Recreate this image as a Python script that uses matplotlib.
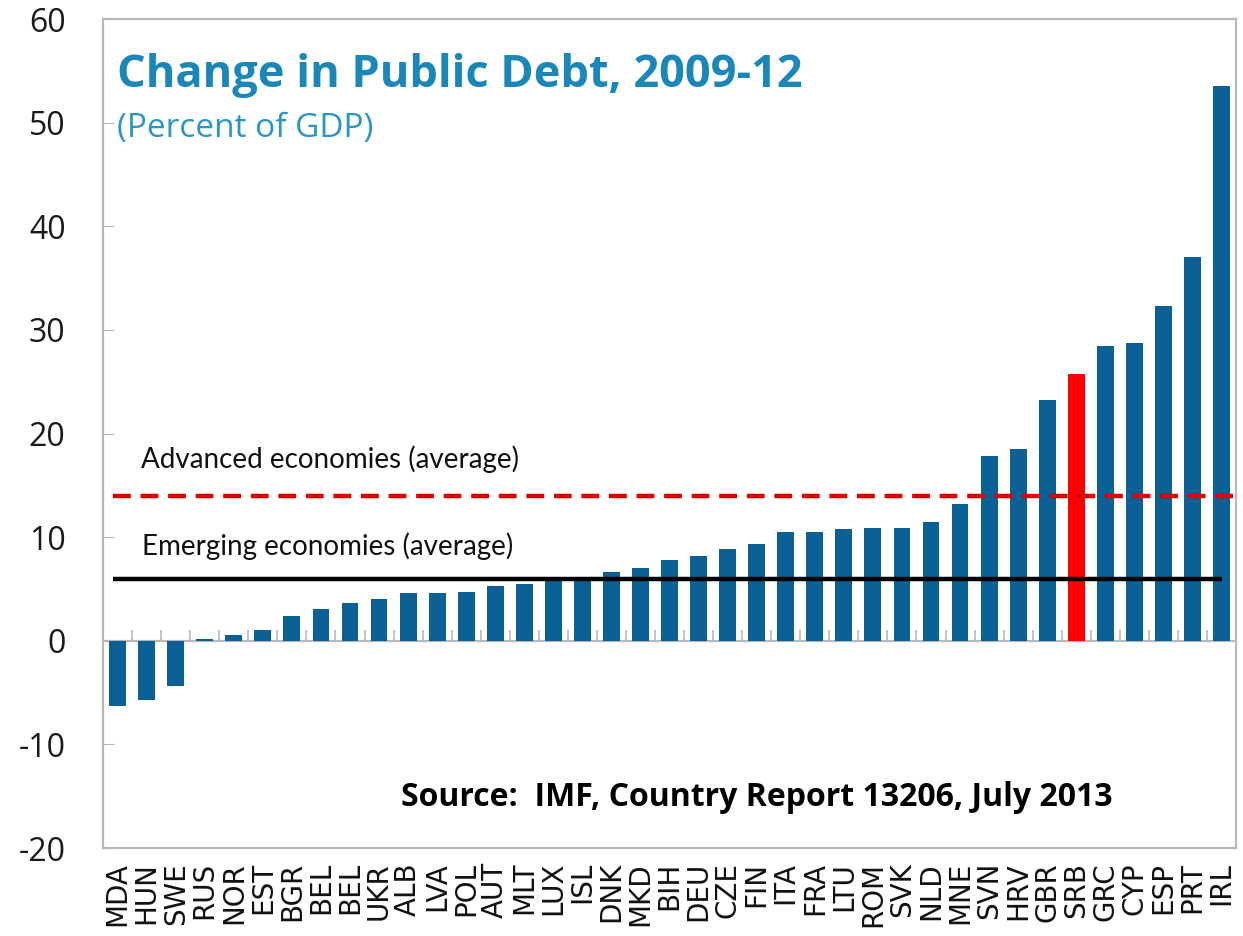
import numpy as np
import matplotlib.pyplot as plt

# data
countries = ['MDA', 'HUN', 'SWE', 'RUS', 'NOR', 'EST', 'BGR', 'BEL', 'BEL', 'UKR',
             'ALB', 'LVA', 'POL', 'AUT', 'MLT', 'LUX', 'ISL', 'DNK', 'MKD', 'BIH',
             'DEU', 'CZE', 'FIN', 'ITA', 'FRA', 'LTU', 'ROM', 'SVK', 'NLD', 'MNE',
             'SVN', 'HRV', 'GBR', 'SRB', 'GRC', 'CYP', 'ESP', 'PRT', 'IRL']
debt_change = [-6.3, -5.7, -4.4, 0.2, 0.6, 1.0, 2.4, 3.1, 3.6, 4.0,
               4.6, 4.6, 4.7, 5.3, 5.5, 6.0, 6.0, 6.6, 7.0, 7.8,
               8.2, 8.9, 9.3, 10.5, 10.5, 10.8, 10.9, 10.9, 11.5, 13.2,
               17.8, 18.5, 23.2, 25.7, 28.4, 28.7, 32.3, 37.0, 53.5]
highlight = 'SRB'
advanced_avg = 14.0
emerging_avg = 6.0
y_ticks = [-20, -10, 0, 10, 20, 30, 40, 50, 60]

blue = '#0b6196'
red = '#ff0000'
title_blue = '#1a87b8'
gray = '#b8b8b8'

fig = plt.figure(figsize=(12.43, 9.36), dpi=100)
ax = fig.add_axes([0.0829, 0.094, 0.9115, 0.8857])

x = np.arange(len(countries))
colors = [red if c == highlight else blue for c in countries]
ax.bar(x, debt_change, width=0.58, color=colors, zorder=2)

# average lines
ax.hlines(advanced_avg, -0.15, 38.4, colors='#e00000', linestyles=(0, (4, 2.2)),
          linewidth=3.2, zorder=3)
ax.hlines(emerging_avg, -0.15, 38.0, colors='black', linewidth=3.2, zorder=3)

ax.text(0.8, advanced_avg + 3.5, 'Advanced economies (average)', fontsize=20,
        family='Lato', color='#111111', va='center', ha='left')
ax.text(0.85, emerging_avg + 3.1, 'Emerging economies (average)', fontsize=20,
        family='Lato', color='#111111', va='center', ha='left')

ax.set_xlim(-0.5, len(countries) - 0.5)
ax.set_ylim(-20, 60)
ax.set_yticks(y_ticks)
ax.set_yticklabels([str(v) for v in y_ticks], fontsize=23, family='Open Sans', color='#1a1a1a')
ax.tick_params(axis='y', direction='in', length=8, color=gray, pad=27)

ax.set_xticks(x)
ax.set_xticklabels(countries, rotation=90, fontsize=20, family='DejaVu Sans', color='#111111')
ax.tick_params(axis='x', length=0, pad=10)

for s in ax.spines.values():
    s.set_color(gray)
    s.set_linewidth(1.6)

# zero line with small upward ticks between bars
zero_axis = ax.secondary_xaxis(0.25)
zero_axis.set_xticks(np.arange(len(countries) + 1) - 0.5)
zero_axis.set_xticklabels([])
zero_axis.tick_params(axis='x', direction='in', length=8, color=gray, width=1.2)
zero_axis.spines['bottom'].set_color(gray)
zero_axis.spines['bottom'].set_linewidth(1.6)

# title
ax.text(0.012, 0.932, 'Change in Public Debt, 2009-12', transform=ax.transAxes,
        fontsize=32.5, fontweight='bold', family='Open Sans', color=title_blue,
        ha='left', va='center')
ax.text(0.012, 0.868, '(Percent of GDP)', transform=ax.transAxes,
        fontsize=24, family='Open Sans', color='#2a96c6', ha='left', va='center')

ax.text(0.577, 0.0615, 'Source:  IMF, Country Report 13206, July 2013', transform=ax.transAxes,
        fontsize=23, fontweight='bold', family='Open Sans', color='black',
        ha='center', va='center')

fig.savefig('out.png', dpi=100)
